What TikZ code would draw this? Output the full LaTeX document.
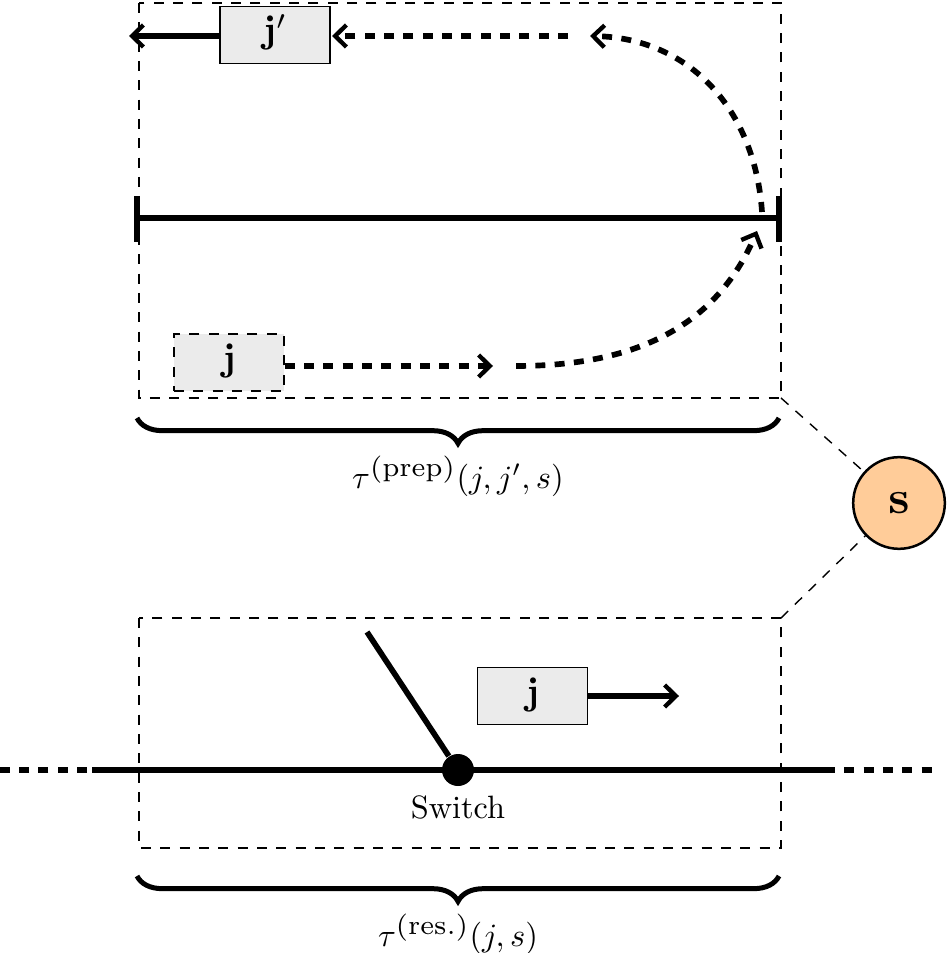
\documentclass[tikz,border=0pt]{standalone}
\usepackage{amsmath}
\usepackage{graphicx}
\usetikzlibrary{arrows.meta,decorations.pathreplacing,calc}
\tikzset{
  x=0.3pt,y=-0.3pt,
  thinline/.style={line width=0.42pt},
  frame/.style={thinline,dash pattern=on 3pt off 2.8pt},
  job/.style={draw,thinline,fill=black!8,minimum width=33pt,minimum height=17pt,inner sep=0pt,text height=7pt,text depth=2.2pt},
  jobdash/.style={job,dash pattern=on 3pt off 2.8pt},
  heavy/.style={line width=1.7pt},
  tipped/.style={heavy,-{Straight Barb[length=3.4pt,width=6.6pt,line width=1.3pt]}},
  dashedheavy/.style={heavy,dash pattern=on 3pt off 2.8pt},
  dashtip/.style={dashedheavy,-{Straight Barb[length=3.4pt,width=6.6pt,line width=1.3pt,sep=0pt]}},
  bracefig/.style={line width=1.5pt,decorate,decoration={brace,mirror,amplitude=7.6pt,raise=0pt}},
}
\newcommand{\jobtext}[1]{\scalebox{1.15}{$\mathbf{#1}$}}
\newcommand{\suplabel}[1]{\scalebox{1.2}{$\scriptstyle(\mathrm{#1})$}}
\begin{document}
\begin{tikzpicture}
\useasboundingbox (0,0) rectangle (948,953);
% frames
\draw[frame] (139,3) rectangle (781,398);
\draw[frame] (139,618) rectangle (781,848);
\coordinate (prepSE) at (781,398);
\coordinate (resNE) at (781,618);
% server
\node[circle,draw,line width=0.75pt,fill=orange!40,minimum size=27.5pt,inner sep=0pt] (srv) at (899,503) {\scalebox{1.4}{$\mathbf{s}$}};
\draw[frame] (prepSE) -- (srv);
\draw[frame] (resNE) -- (srv);
% track with bars
\coordinate (trackL) at (137,218);
\coordinate (trackR) at (779,218);
\draw[heavy] (trackL) -- (trackR);
\draw[heavy] (137,196) -- (137,242);
\draw[heavy] (779,196) -- (779,242);
% top jobs
\node[job] (jp) at (275,35) {\jobtext{j'}};
\node[jobdash] (jd) at (229,362.5) {\jobtext{j}};
\coordinate (exitL) at (129,36);
\draw[tipped] (jp.west |- exitL) -- (exitL);
\coordinate (dashA) at (568,36);
\draw[dashtip] (dashA) -- (332,36);
\coordinate (curveTopS) at (762,212);
\coordinate (curveTopE) at (590,36);
\draw[dashtip] (curveTopS) .. controls (755,110) and (690,38) .. (curveTopE);
\coordinate (dashB) at (493,366);
\draw[dashtip] (jd.east |- dashB) -- (dashB);
\coordinate (curveLowS) at (516,366);
\coordinate (curveLowE) at (757,231);
\draw[dashtip] (curveLowS) .. controls (630,366) and (715,330) .. (curveLowE);
% braces
\coordinate (b1a) at (137,418);
\coordinate (b1b) at (779,418);
\coordinate (b2a) at (137,876);
\coordinate (b2b) at (779,876);
\draw[bracefig] (b1a) -- (b1b);
\draw[bracefig] (b2a) -- (b2b);
\node (lab1) at (458,476) {\scalebox{.975}{$\tau^{\suplabel{prep}}(j,j',s)$}};
\node (lab2) at (458,934) {\scalebox{.975}{$\tau^{\suplabel{res.}}(j,s)$}};
% lower part
\coordinate (lineL) at (92,770);
\coordinate (lineR) at (825,770);
\coordinate (dashL) at (87,770);
\coordinate (farL) at (0,770);
\coordinate (farR) at (932,770);
\draw[heavy] (lineL) -- (lineR);
\draw[dashedheavy] (dashL) -- (farL);
\draw[dashedheavy] (lineR) -- (farR);
\node[circle,fill=black,minimum size=9.6pt,inner sep=0pt] (sw) at (458,770) {};
\coordinate (swTop) at (367,632);
\draw[heavy] (swTop) -- (sw);
\node (swlab) at (458,807) {\scalebox{.97}{Switch}};
\node[job] (jl) at (532.5,696) {\jobtext{j}};
\coordinate (exitR) at (679,696);
\draw[tipped] (jl.east) -- (exitR);
\end{tikzpicture}
\end{document}
